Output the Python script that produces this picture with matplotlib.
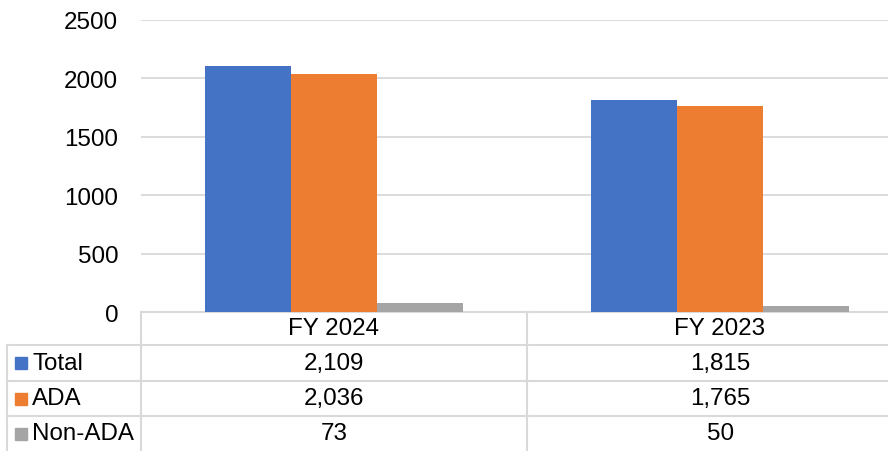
import matplotlib.pyplot as plt
import matplotlib.transforms as mtransforms
from matplotlib.patches import Rectangle

# data
categories = ["FY 2024", "FY 2023"]
series_names = ["Total", "ADA", "Non-ADA"]
total = [2109, 1815]
ada = [2036, 1765]
non_ada = [73, 50]
yticks = [0, 500, 1000, 1500, 2000, 2500]

colors = ["#4472C4", "#ED7D31", "#A5A5A5"]
grid_col = "#D9D9D9"

plt.rcParams["font.family"] = ["Liberation Sans", "DejaVu Sans"]
plt.rcParams["font.size"] = 17.4

W, H = 888, 452
fig = plt.figure(figsize=(W / 100, H / 100), dpi=100)

# plot area in pixels: left 141, top 21, bottom 313, right edge of figure
ax = fig.add_axes([141 / W, (H - 313) / H, (W - 141) / W, (313 - 21) / H])
col_w_px = 386
ax.set_xlim(-0.5, -0.5 + (W - 141) / col_w_px)
ax.set_ylim(0, 2500)

bar_w = 1 / 1.5 / 3  # gap width 50%
values = [total, ada, non_ada]
for k, (name, vals) in enumerate(zip(series_names, values)):
    xs = [i + (k - 1) * bar_w for i in range(len(categories))]
    ax.bar(xs, vals, width=bar_w, color=colors[k], label=name, zorder=3)

ax.set_yticks(yticks)
ax.set_yticklabels([str(t) for t in yticks])
ax.tick_params(axis="y", length=0, pad=16.5)
ax.tick_params(axis="x", length=0, labelbottom=False)
ax.grid(axis="y", color=grid_col, linewidth=1.3, zorder=0)
for s in ["top", "right", "left"]:
    ax.spines[s].set_visible(False)
ax.spines["bottom"].set_color(grid_col)
ax.spines["bottom"].set_linewidth(1.5)

# data table below the plot
trans = mtransforms.blended_transform_factory(ax.transData, fig.transFigure)
ftrans = fig.transFigure


def fy(py):
    return (H - py) / H


def fx(px):
    return px / W


row_edges = [313, 346, 382, 417, 452]
lw = 1.5

# horizontal row lines
for py in row_edges[1:-1]:
    fig.add_artist(plt.Line2D([fx(7), 1], [fy(py), fy(py)], transform=ftrans,
                              color=grid_col, linewidth=lw))
# vertical lines
fig.add_artist(plt.Line2D([fx(7), fx(7)], [fy(346), fy(452)], transform=ftrans,
                          color=grid_col, linewidth=lw))
fig.add_artist(plt.Line2D([fx(141), fx(141)], [fy(313), fy(452)], transform=ftrans,
                          color=grid_col, linewidth=lw))
for i in range(1, len(categories)):
    xb = i - 0.5
    fig.add_artist(plt.Line2D([xb, xb], [fy(313), fy(452)], transform=trans,
                              color=grid_col, linewidth=lw))

# header
for i, cat in enumerate(categories):
    fig.text(i, fy((313 + 346) / 2), cat, transform=trans,
             ha="center", va="center")

# rows
for r, (name, vals) in enumerate(zip(series_names, values)):
    yc = fy((row_edges[r + 1] + row_edges[r + 2]) / 2)
    fig.add_artist(Rectangle((fx(15), yc - 6 / H), 12 / W, 12 / H,
                             transform=ftrans, color=colors[r]))
    fig.text(fx(32), yc, name, transform=ftrans, ha="left", va="center")
    for i, v in enumerate(vals):
        fig.text(i, yc, f"{v:,}", transform=trans, ha="center", va="center")

fig.savefig("out.png", dpi=100)
